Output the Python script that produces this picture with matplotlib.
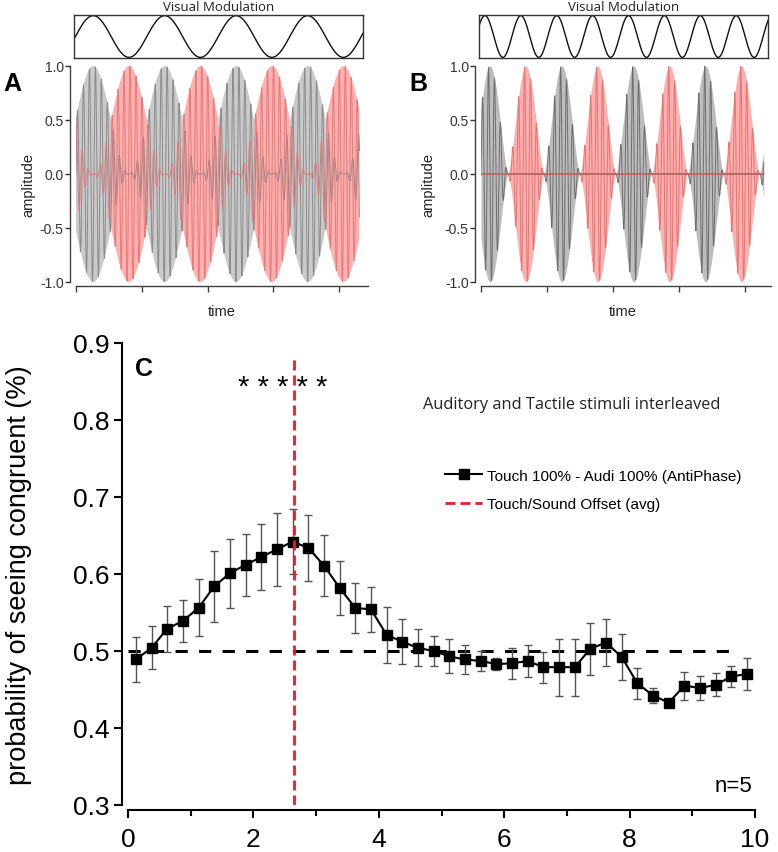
import numpy as np
import matplotlib
matplotlib.use('Agg')
import matplotlib.pyplot as plt

plt.rcParams['font.family'] = ['Liberation Sans', 'DejaVu Sans']

# ---------------- Panel C data ----------------
bin_time = [0.125, 0.375, 0.625, 0.875, 1.125, 1.375, 1.625, 1.875, 2.125, 2.375,
            2.625, 2.875, 3.125, 3.375, 3.625, 3.875, 4.125, 4.375, 4.625, 4.875,
            5.125, 5.375, 5.625, 5.875, 6.125, 6.375, 6.625, 6.875, 7.125, 7.375,
            7.625, 7.875, 8.125, 8.375, 8.625, 8.875, 9.125, 9.375, 9.625, 9.875]
p_congruent = [0.489, 0.504, 0.529, 0.539, 0.556, 0.584, 0.601, 0.612, 0.622, 0.632,
               0.642, 0.634, 0.611, 0.582, 0.556, 0.554, 0.521, 0.512, 0.504, 0.500,
               0.493, 0.489, 0.487, 0.483, 0.484, 0.487, 0.479, 0.479, 0.479, 0.503,
               0.511, 0.492, 0.458, 0.442, 0.433, 0.455, 0.452, 0.456, 0.467, 0.470]
p_err = [0.029, 0.028, 0.030, 0.027, 0.037, 0.046, 0.045, 0.040, 0.043, 0.047,
         0.042, 0.043, 0.040, 0.035, 0.032, 0.029, 0.036, 0.029, 0.024, 0.020,
         0.022, 0.019, 0.013, 0.008, 0.020, 0.021, 0.020, 0.037, 0.037, 0.034,
         0.030, 0.030, 0.020, 0.010, 0.003, 0.018, 0.016, 0.015, 0.014, 0.021]
offset_avg = 2.64
chance_level = 0.5
c_xticks = [0, 2, 4, 6, 8, 10]
c_yticks = [0.3, 0.4, 0.5, 0.6, 0.7, 0.8, 0.9]
c_yticklabels = ['0.3', '0.4', '0.5', '0.6', '0.7', '0.8', '0.9']
legend_labels = ['Touch 100% - Audi 100% (AntiPhase)', 'Touch/Sound Offset (avg)']

# ---------------- Panels A/B stimulus parameters ----------------
mod_period = 1.088          # period of the touch/sound alternation (axis units)
A_gray_center = 0.263       # first grey burst centre, panel A
B_gray_center = 0.136       # first grey burst centre, panel B
B_visual_peak = 0.06        # first visual peak, panel B
carrier_cycles = 11         # carrier cycles per axis unit
A_t_end = 4.31
B_t_end = 4.28
amp_ticks = [-1.0, -0.5, 0.0, 0.5, 1.0]
amp_ticklabels = ['-1.0', '-0.5', '0.0', '0.5', '1.0']
time_ticks = [0, 1, 2, 3, 4]

GRAY_FILL, GRAY_LINE = '#cacaca', '#8c8c8c'
RED_FILL, RED_LINE = '#f8b2b2', '#ee7070'

fig = plt.figure(figsize=(7.78, 8.53), dpi=100)
W, H = 778.0, 853.0


def fax(l, t, r, b):
    return fig.add_axes([l / W, 1 - b / H, (r - l) / W, (b - t) / H])


def style_amp_axes(ax):
    for s in ['top', 'right']:
        ax.spines[s].set_visible(False)
    ax.spines['left'].set_position(('outward', 4.3))
    ax.spines['bottom'].set_position(('outward', 2.9))
    for s in ['left', 'bottom']:
        ax.spines[s].set_color('#404040')
        ax.spines[s].set_linewidth(1.0)
    ax.set_ylim(-1.0, 1.0)
    ax.set_yticks(amp_ticks)
    ax.set_yticklabels(amp_ticklabels)
    ax.set_xticks(time_ticks)
    ax.set_xticklabels([])
    ax.tick_params(axis='y', direction='out', length=3.6, width=1.0, pad=1,
                   labelsize=10, colors='#333333')
    ax.tick_params(axis='x', direction='out', length=4.3, width=1.0, colors='#404040')


def style_visual_box(ax, xlim):
    ax.set_xlim(*xlim)
    ax.set_ylim(-1.03, 1.03)
    ax.set_xticks([])
    ax.set_yticks([])
    for s in ax.spines.values():
        s.set_color('#333333')
        s.set_linewidth(1.0)


# ---------------- Panel A ----------------
axA = fax(76, 67, 368, 283)
tA = np.linspace(0, A_t_end, 8000)
phA = 2 * np.pi * (tA - A_gray_center) / mod_period
envA_g = (1 + np.cos(phA)) / 2
envA_r = (1 - np.cos(phA)) / 2
carA = np.sin(2 * np.pi * carrier_cycles * tA)
axA.fill_between(tA, -envA_g, envA_g, where=envA_g >= envA_r, color=GRAY_FILL, lw=0, interpolate=True)
axA.fill_between(tA, -envA_r, envA_r, where=envA_r >= envA_g, color=RED_FILL, lw=0, interpolate=True)
axA.plot(tA, envA_g * carA, color=GRAY_LINE, lw=0.7)
axA.plot(tA, envA_r * np.sin(2 * np.pi * carrier_cycles * tA + 1.3), color=RED_LINE, lw=0.7, alpha=0.9)
axA.set_xlim(0, 4.44)
style_amp_axes(axA)

axVA = fax(74, 16, 363, 59)
tVA = np.linspace(-0.03, 4.37, 600)
axVA.plot(tVA, np.cos(2 * np.pi * (tVA - A_gray_center) / mod_period), color='#111111', lw=1.0)
style_visual_box(axVA, (-0.03, 4.37))

# ---------------- Panel B ----------------
axB = fax(481, 67, 771, 283)
tB = np.linspace(0, B_t_end, 8000)
phB = 2 * np.pi * (tB - B_gray_center) / mod_period
envB_g = np.clip(np.cos(phB), 0, None) ** 1.5
envB_r = np.clip(-np.cos(phB), 0, None) ** 1.5
carB = np.sin(2 * np.pi * carrier_cycles * tB)
axB.fill_between(tB, -envB_g, envB_g, color='#bdbdbd', lw=0)
axB.fill_between(tB, -envB_r, envB_r, color=RED_FILL, lw=0)
axB.plot(tB, envB_g * carB, color='#6e6e6e', lw=0.7)
axB.plot(tB, envB_r * carB, color=RED_LINE, lw=0.7)
axB.plot(tB, 0 * tB, color='#b05a5a', lw=0.9)
axB.set_xlim(0, 4.39)
style_amp_axes(axB)

axVB = fax(479, 16, 768, 59)
tVB = np.linspace(-0.03, 4.35, 800)
axVB.plot(tVB, np.cos(2 * np.pi * (tVB - B_visual_peak) / (mod_period / 2)), color='#111111', lw=1.0)
style_visual_box(axVB, (-0.03, 4.35))

for cx in (218.5, 623.5):
    fig.text(cx / W, 1 - 7.5 / H, 'Visual Modulation', ha='center', va='center',
             fontsize=9.5, family=['Open Sans', 'DejaVu Sans'], color='#222222')
for cx in (222, 623):
    fig.text(cx / W, 1 - 312 / H, 'time', ha='center', va='center', fontsize=10.5, color='#222222')
for cx in (28, 428):
    fig.text(cx / W, 1 - 185 / H, 'amplitude', ha='center', va='center', rotation=90,
             fontsize=10.5, color='#222222')
fig.text(12 / W, 1 - 84 / H, 'A', ha='center', va='center', fontsize=18, fontweight='bold')
fig.text(418 / W, 1 - 84 / H, 'B', ha='center', va='center', fontsize=18, fontweight='bold')

# ---------------- Panel C ----------------
axC = fax(128, 344, 755, 806)
axC.axhline(chance_level, xmin=0.0, xmax=0.97, color='black', lw=2.2, ls=(0, (4, 3.7)), zorder=1)
axC.errorbar(bin_time, p_congruent, yerr=p_err, fmt='none', ecolor='#555555',
             elinewidth=1.0, capsize=3.0, capthick=1.0, zorder=2)
main_line, = axC.plot(bin_time, p_congruent, color='black', lw=1.5, marker='s',
                      markersize=6.5, markerfacecolor='black', markeredgecolor='black',
                      zorder=3, label=legend_labels[0])
offset_line = axC.axvline(offset_avg, ymin=0.0, ymax=0.965, color='#e0202c', lw=2.0,
                          ls=(0, (3.6, 1.8)), zorder=4, label=legend_labels[1])
axC.set_xlim(0, 10)
axC.set_ylim(0.3, 0.9)
for s in ['top', 'right']:
    axC.spines[s].set_visible(False)
axC.spines['left'].set_position(('outward', 4.3))
axC.spines['bottom'].set_position(('outward', 3.6))
for s in ['left', 'bottom']:
    axC.spines[s].set_linewidth(1.5)
axC.set_xticks(c_xticks)
axC.set_xticks([1, 3, 5, 7, 9], minor=True)
axC.set_yticks(c_yticks)
axC.set_yticklabels(c_yticklabels)
axC.tick_params(axis='both', which='major', direction='out', length=6.0, width=1.5, labelsize=19)
axC.tick_params(axis='x', which='major', pad=6)
axC.tick_params(axis='y', which='major', pad=3)
axC.tick_params(axis='x', which='minor', direction='out', length=4.0, width=1.5)

fig.text(19 / W, 1 - 575 / H, 'probability of seeing congruent (%)', rotation=90,
         ha='center', va='center', fontsize=19.5)

axC.text(0.255, 0.8675, 'C', ha='center', va='center', fontsize=18, fontweight='bold')
axC.text(2.47, 0.843, '* * * * *', ha='center', va='center', fontsize=21)
axC.text(7.07, 0.821, 'Auditory and Tactile stimuli interleaved', ha='center', va='center',
         fontsize=11.8, family=['Open Sans', 'DejaVu Sans'], color='#222222')
axC.text(9.96, 0.325, 'n=5', ha='right', va='center', fontsize=16)
leg = axC.legend(handles=[main_line, offset_line], loc='upper left',
                 bbox_to_anchor=(0.506, 0.728), frameon=False, fontsize=11,
                 borderpad=0, borderaxespad=0, handlelength=2.4, handletextpad=0.3,
                 labelspacing=0.95)

fig.savefig('out.png', dpi=100)
